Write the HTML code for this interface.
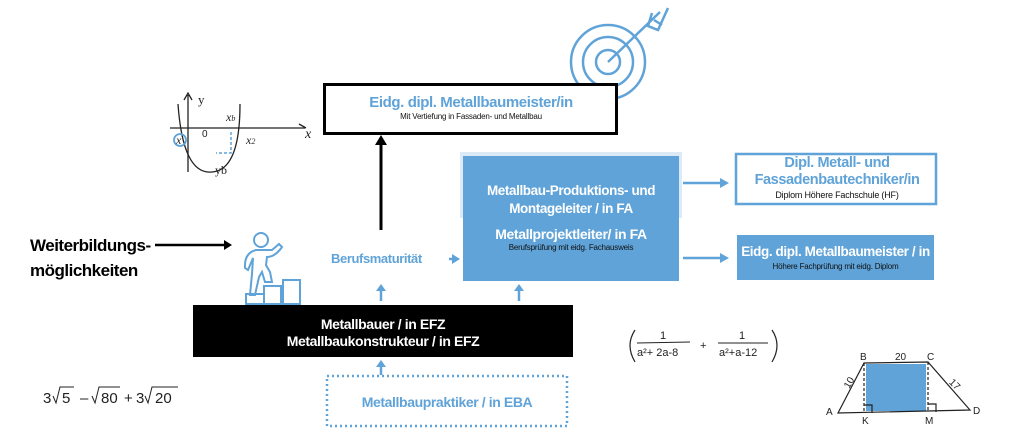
<!DOCTYPE html>
<html><head><meta charset="utf-8"><style>
body{margin:0;width:1024px;height:440px;background:#fff;position:relative;overflow:hidden;font-family:"Liberation Sans",Arial,sans-serif;}
.a{position:absolute;white-space:nowrap;}
.c{text-align:center;}
.b{font-weight:bold;letter-spacing:-0.4px;}
</style></head><body>
<svg class="a" style="left:0;top:0" width="1024" height="440" viewBox="0 0 1024 440">
<!-- target -->
<g fill="none" stroke="#5fa3d8" stroke-width="2.5">
<circle cx="608" cy="62" r="37"/><circle cx="608" cy="62" r="25"/><circle cx="608" cy="62" r="12"/>
<path d="M608,62 L660,12 M652,13 L648,26 L658,30 L668,8 M654,20 L662,25"/>
</g>
<!-- graph -->
<g fill="none" stroke="#222" stroke-width="1.3">
<path d="M170,128 L305,128 M299,124 L306,128 M188,172 L188,95 M184,100 L188,93 L192,100"/>
<path d="M178,104 Q183,175 212,172 Q240,170 240,104"/>
<text x="198" y="104" font-size="13" stroke="none" fill="#222" font-family="Liberation Serif">y</text>
<text x="202" y="137" font-size="10" stroke="none" fill="#222">0</text>
<text x="226" y="121" font-size="12" stroke="none" fill="#222" font-family="Liberation Serif" font-style="italic">x<tspan font-size="8">b</tspan></text>
<text x="246" y="144" font-size="12" stroke="none" fill="#222" font-family="Liberation Serif" font-style="italic">x<tspan font-size="8">2</tspan></text>
<text x="176" y="144" font-size="12" stroke="none" fill="#222" font-family="Liberation Serif" font-style="italic">x</text>
<text x="215" y="174" font-size="12" stroke="none" fill="#222" font-family="Liberation Serif">yb</text>
<text x="305" y="138" font-size="14" stroke="none" fill="#222" font-family="Liberation Serif" font-style="italic">x</text>
</g>
<circle cx="180" cy="140" r="6" fill="none" stroke="#5fa3d8" stroke-width="1.8"/>
<path d="M231,132 L231,153 L216,153" fill="none" stroke="#5fa3d8" stroke-width="1.5" stroke-dasharray="3,2"/>
<!-- top box -->
<rect x="324.5" y="84.5" width="292" height="49" fill="#fff" stroke="#000" stroke-width="3"/>
<!-- black arrow up -->
<path d="M381,230 L381,142" stroke="#000" stroke-width="3"/>
<path d="M375,145 L381,135 L387,145 z" fill="#000"/>
<!-- weiterbildungs arrow -->
<path d="M155,245 L226,245" stroke="#000" stroke-width="2.5"/>
<path d="M224,240 L232,245 L224,250 z" fill="#000"/>
<!-- person -->
<g fill="none" stroke="#5fa3d8" stroke-width="2">
<circle cx="261" cy="240" r="7"/>
<path d="M256,250 Q244,253 245,268 L248,270 L253,258 L252,274 L250,295 L255,295 L259,277 L262,272 L265,282 L272,282 L270,272 L266,265 L267,257 Q275,257 282,247 L279,244 L272,250 Z"/>
<rect x="246" y="294" width="18" height="10"/><rect x="264" y="286" width="17" height="18"/><rect x="283" y="280" width="17" height="24"/>
</g>
<!-- big blue box -->
<rect x="460" y="152" width="222" height="66" fill="#dce9f6"/>
<rect x="463" y="156" width="216" height="125" fill="#5fa3d8"/>
<!-- right boxes -->
<rect x="736" y="154" width="200" height="50" fill="#fff" stroke="#5fa3d8" stroke-width="2.5"/>
<rect x="737" y="235" width="197" height="45" fill="#5fa3d8"/>
<!-- blue arrows -->
<g stroke="#5fa3d8" stroke-width="2.5" fill="#5fa3d8">
<path d="M683,183 L722,183"/><path d="M720,178 L729,183 L720,188 z" stroke="none"/>
<path d="M683,258 L722,258"/><path d="M720,253 L729,258 L720,263 z" stroke="none"/>
<path d="M449,259 L454,259"/><path d="M452,254 L460,259 L452,264 z" stroke="none"/>
<path d="M381,301 L381,289"/><path d="M376,291 L381,284 L386,291 z" stroke="none"/>
<path d="M519,301 L519,289"/><path d="M514,291 L519,284 L524,291 z" stroke="none"/>
<path d="M381,375 L381,365"/><path d="M376,367 L381,360 L386,367 z" stroke="none"/>
</g>
<!-- black box -->
<rect x="193" y="305" width="380" height="52" fill="#000"/>
<!-- dotted box -->
<rect x="327" y="376" width="240" height="50" fill="none" stroke="#5fa3d8" stroke-width="2.5" stroke-dasharray="2,3"/>
<!-- math -->
<g font-family="Liberation Sans" fill="#222" font-size="15">
<text x="43" y="403">3</text>
<path d="M53,396 L56,403 L60,387 L74,387 M92,396 L95,403 L99,387 L120,387 M145,396 L148,403 L152,387 L178,387" fill="none" stroke="#222" stroke-width="1"/>
<text x="62" y="403">5</text><text x="80" y="403">–</text><text x="101" y="403">80</text><text x="124" y="403">+</text><text x="136" y="403">3</text><text x="155" y="403">20</text>
</g>
<g font-family="Liberation Sans" fill="#222" font-size="11">
<path d="M635,330 Q625,345 635,362 M772,330 Q782,345 772,362" fill="none" stroke="#222" stroke-width="1.2"/>
<path d="M637,343 L690,342 M718,343 L768,343" stroke="#222" stroke-width="1"/>
<text x="660" y="339">1</text><text x="739" y="339">1</text>
<text x="637" y="356">a²+ 2a-8</text><text x="700" y="349">+</text><text x="719" y="356">a²+a-12</text>
</g>
<!-- trapezoid -->
<rect x="866" y="364" width="60" height="47" fill="#5fa3d8"/>
<g fill="none" stroke="#222" stroke-width="1.2">
<path d="M838,413 L864,363 L928,362 L970,410 Z"/>
<path d="M864,363 L864,413 M928,362 L928,412" stroke-dasharray="3,2"/>
<path d="M864,405 L872,405 L872,413 M928,404 L936,404 L936,412"/>
</g>
<g font-family="Liberation Sans" fill="#222" font-size="10">
<text x="860" y="360">B</text><text x="895" y="360">20</text><text x="927" y="360">C</text>
<text x="826" y="415">A</text><text x="973" y="414">D</text><text x="862" y="424">K</text><text x="925" y="424">M</text>
<text x="845" y="388" transform="rotate(-60 848 385)">10</text><text x="950" y="385" transform="rotate(45 952 382)">17</text>
</g>
</svg>
<div class="a c b" style="left:324px;top:94px;width:294px;color:#5fa3d8;font-size:15px;">Eidg. dipl. Metallbaumeister/in</div>
<div class="a c" style="left:324px;top:112px;width:294px;color:#111;font-size:8px;letter-spacing:-0.2px;">Mit Vertiefung in Fassaden- und Metallbau</div>
<div class="a c b" style="left:463px;top:182px;width:216px;color:#fff;font-size:13.5px;line-height:18px;">Metallbau-Produktions- und<br>Montageleiter / in FA</div>
<div class="a c b" style="left:463px;top:226px;width:216px;color:#fff;font-size:14px;">Metallprojektleiter/ in FA</div>
<div class="a c" style="left:463px;top:243px;width:216px;color:#111;font-size:8px;letter-spacing:-0.2px;">Berufsprüfung mit eidg. Fachausweis</div>
<div class="a c b" style="left:736px;top:155px;width:202px;color:#5fa3d8;font-size:14.5px;line-height:17px;">Dipl. Metall- und<br>Fassadenbautechniker/in</div>
<div class="a c" style="left:736px;top:190px;width:202px;color:#111;font-size:9px;letter-spacing:-0.2px;">Diplom Höhere Fachschule (HF)</div>
<div class="a c b" style="left:737px;top:244px;width:197px;color:#fff;font-size:13.5px;">Eidg. dipl. Metallbaumeister / in</div>
<div class="a c" style="left:737px;top:262px;width:197px;color:#111;font-size:8px;letter-spacing:-0.2px;">Höhere Fachprüfung mit eidg. Diplom</div>
<div class="a b" style="left:331px;top:251px;color:#5fa3d8;font-size:13px;">Berufsmaturität</div>
<div class="a b" style="left:30px;top:233px;color:#000;font-size:17px;line-height:25px;letter-spacing:-0.5px;">Weiterbildungs-<br>möglichkeiten</div>
<div class="a c b" style="left:193px;top:316px;width:380px;color:#fff;font-size:14px;line-height:17px;">Metallbauer / in EFZ<br>Metallbaukonstrukteur / in EFZ</div>
<div class="a c b" style="left:327px;top:394px;width:240px;color:#5fa3d8;font-size:14px;">Metallbaupraktiker / in EBA</div>
</body></html>
